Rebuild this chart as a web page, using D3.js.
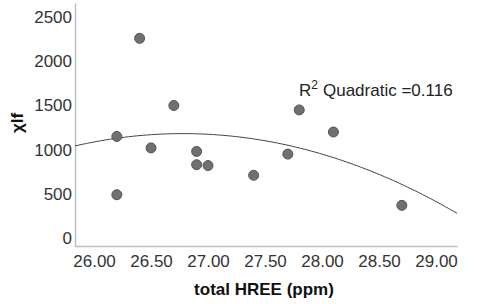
<!DOCTYPE html>
<html lang="en">
<head>
    <meta charset="UTF-8">
    <title>xlf vs total HREE</title>
    <script src="https://cdn.jsdelivr.net/npm/d3@7"></script>
    <style>
        body { margin: 0; background: #fff; }
        svg { font-family: "Liberation Sans", Arial, sans-serif; }
    </style>
</head>
<body>
<div id="canvas"></div>
<script>
    // data
    const hree = [26.2, 26.2, 26.4, 26.5, 26.7, 26.9, 26.9, 27.0, 27.4, 27.7, 27.8, 28.1, 28.7]
    const xlf = [1150, 490, 2260, 1020, 1500, 980, 830, 820, 710, 950, 1450, 1200, 370]
    const xTicks = [26.0, 26.5, 27.0, 27.5, 28.0, 28.5, 29.0]
    const yTicks = [0, 500, 1000, 1500, 2000, 2500]
    // quadratic fit, vertex form, estimated from the drawn curve
    const fitPeakX = 26.78
    const fitPeakY = 1182
    const fitCurv = -156
    const fitLabel = "Quadratic =0.116"

    const width = 480
    const height = 304
    const plotLeft = 75, plotRight = 457, plotTop = 3, plotBottom = 246

    const svg = d3.select("#canvas")
        .append("svg")
        .attr("width", width)
        .attr("height", height)

    const x = d3.scaleLinear().domain([25.833, 29.184]).range([plotLeft, plotRight])
    const y = d3.scaleLinear().domain([-90, 2660]).range([plotBottom, plotTop])

    svg.append("g")
        .attr("transform", `translate(0,${plotBottom})`)
        .call(d3.axisBottom(x).tickValues(xTicks).tickFormat(d3.format(".2f")).tickSize(0).tickPadding(9))
    svg.append("g")
        .attr("transform", `translate(${plotLeft},0)`)
        .call(d3.axisLeft(y).tickValues(yTicks).tickFormat(d3.format("d")).tickSize(0).tickPadding(3))

    svg.selectAll(".domain").attr("stroke", "#bdbdbd").attr("stroke-width", 1.5)
    svg.selectAll(".tick text")
        .attr("font-family", "Liberation Sans, Arial, sans-serif")
        .attr("font-size", 17)
        .attr("fill", "#333")

    // fitted curve
    const xs = d3.range(0, 101).map(i => x.domain()[0] + (x.domain()[1] - x.domain()[0]) * i / 100)
    const line = d3.line()
        .x(d => x(d))
        .y(d => y(fitPeakY + fitCurv * (d - fitPeakX) * (d - fitPeakX)))
    svg.append("path")
        .datum(xs)
        .attr("d", line)
        .attr("fill", "none")
        .attr("stroke", "#444")
        .attr("stroke-width", 1)

    // points
    svg.append("g")
        .selectAll("circle")
        .data(hree)
        .enter()
        .append("circle")
        .attr("cx", d => x(d))
        .attr("cy", (d, i) => y(xlf[i]))
        .attr("r", 5)
        .attr("fill", "#707070")
        .attr("stroke", "#555")
        .attr("stroke-width", 1)

    // R² label
    const r2 = svg.append("text")
        .attr("x", 299)
        .attr("y", 96)
        .attr("font-size", 17)
        .attr("fill", "#222")
    r2.append("tspan").text("R")
    r2.append("tspan").attr("dy", -7).attr("font-size", 12).text("2")
    r2.append("tspan").attr("dy", 7).attr("dx", 5).text(fitLabel)

    // axis titles
    svg.append("text")
        .attr("x", 264)
        .attr("y", 295)
        .attr("text-anchor", "middle")
        .attr("font-size", 17)
        .attr("font-weight", "bold")
        .attr("fill", "#111")
        .text("total HREE (ppm)")

    svg.append("text")
        .attr("transform", "translate(23,123) rotate(-90)")
        .attr("text-anchor", "middle")
        .attr("font-size", 17)
        .attr("font-weight", "bold")
        .attr("fill", "#111")
        .text("χlf")
</script>
</body>
</html>
